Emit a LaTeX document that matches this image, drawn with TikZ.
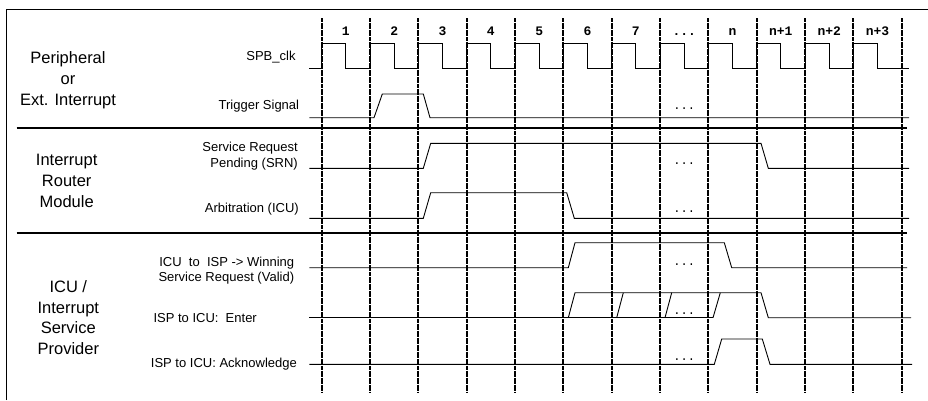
\documentclass[tikz,border=0pt]{standalone}
\usepackage{fontspec}
\setmainfont{Liberation Sans}
\newfontfamily\courfont{Liberation Mono}
\begin{document}
\begin{tikzpicture}[x=1pt,y=-1pt,
  sig/.style={line width=0.9pt, line join=miter},
  gridline/.style={line width=1.7pt, dash pattern=on 2pt off 0.35pt},
  sep/.style={line width=2pt},
  grp/.style={font=\fontsize{16.5}{20.8}\selectfont, align=center, inner sep=0pt},
  lab/.style={font=\fontsize{13}{15.6}\selectfont, inner sep=0pt},
  num/.style={font=\courfont\bfseries\fontsize{13}{14}\selectfont, anchor=base, inner sep=0pt},
  dotsty/.style={font=\courfont\fontsize{12}{14}\selectfont, anchor=base, inner sep=0pt}]
\useasboundingbox (0,0) rectangle (928,400);
% frame
\draw[line width=1pt] (6.7,400) -- (6.7,9) -- (928,9);
% grid lines
\foreach \i in {0,...,12}
  \draw[gridline] ({321.667+48.333*\i},18) -- ({321.667+48.333*\i},391.7);
% column numbers
\node[num] (c1) at (345.8,35.8) {1};
\node[num] (c2) at (394.2,35.8) {2};
\node[num] (c3) at (442.5,35.8) {3};
\node[num] (c4) at (490.8,35.8) {4};
\node[num] (c5) at (539.2,35.8) {5};
\node[num] (c6) at (587.5,35.8) {6};
\node[num] (c7) at (635.8,35.8) {7};
\node[num] (c8) at (684.2,35.8) {...};
\node[num] (c9) at (732.5,35.8) {n};
\node[num] (c10) at (780.8,35.8) {n+1};
\node[num] (c11) at (829.2,35.8) {n+2};
\node[num] (c12) at (877.5,35.8) {n+3};
% separators
\draw[sep] (16.5,127.7) -- (907,127.7);
\draw[sep] (16.5,232.7) -- (907,232.7);
% group labels
\node[grp] (g1) at (68,80.5) {Peripheral\\or\\Ext. Interrupt};
\node[grp] (g2) at (66.7,181) {Interrupt\\Router\\Module};
\node[grp] (g3) at (68.3,317.5) {ICU /\\Interrupt\\Service\\Provider};
% signal labels
\node[lab, anchor=east] (l1) at (295.7,56.7) {SPB\_clk};
\node[lab, anchor=east] (l2) at (299.3,106) {Trigger Signal};
\node[lab, anchor=east, align=right] (l3) at (298,156) {Service Request\\Pending (SRN)};
\node[lab, anchor=east] (l4) at (299,209.3) {Arbitration (ICU)};
\node[lab, anchor=east, align=right] (l5) at (294.3,270.8) {ICU~ to~ ISP -> Winning\\Service Request (Valid)};
\node[lab, anchor=west] (l6) at (153.3,318.3) {ISP to ICU:~ Enter};
\node[lab, anchor=west] (l7) at (150.7,364.3) {ISP to ICU: Acknowledge};
% SPB_clk
\draw[sig] (309.3,68.3)
  foreach \i [evaluate=\i as \x using 321.667+48.333*\i] in {0,...,11}
  { -- (\x,68.3) -- (\x,43.3) -- (\x+24.17,43.3) -- (\x+24.17,68.3) }
  -- (909,68.3);
% Trigger
\draw[sig] (309.3,117.7) -- (374,117.7) -- (382.3,94) -- (423.3,94) -- (430,117.7) -- (909,117.7);
% SRN
\draw[sig] (309.3,168.3) -- (423.3,168.3) -- (430.7,143.3) -- (761,143.3) -- (768.3,168.3) -- (909,168.3);
% Arbitration
\draw[sig] (309.3,218.3) -- (423.3,218.3) -- (430.7,192.7) -- (566.7,192.7) -- (574.3,218.3) -- (909,218.3);
% ICU to ISP
\draw[sig] (309.3,267.7) -- (568.3,267.7) -- (575,242.7) -- (724.3,242.7) -- (731.7,267.7) -- (907,267.7);
% Enter
\draw[sig] (309.3,317.7) -- (713,317.7);
\draw[sig] (568.3,317.7) -- (575,292.7) -- (761,292.7) -- (768.3,317.7) -- (911,317.7);
\draw[sig] (616.7,317.7) -- (623.3,292.7);
\draw[sig] (665,317.7) -- (671.7,292.7);
\draw[sig] (713,317.7) -- (720.3,292.7);
% Acknowledge
\draw[sig] (309.3,364.3) -- (714.3,364.3) -- (721.7,339) -- (762.3,339) -- (770,364.3) -- (912,364.3);
% dots
\node[dotsty] (d1) at (684.2,109.5) {...};
\node[dotsty] (d2) at (684.2,164.5) {...};
\node[dotsty] (d3) at (684.2,212.8) {...};
\node[dotsty] (d4) at (684.2,265) {...};
\node[dotsty] (d5) at (684.2,314.5) {...};
\node[dotsty] (d6) at (684.2,360.5) {...};
\end{tikzpicture}
\end{document}
